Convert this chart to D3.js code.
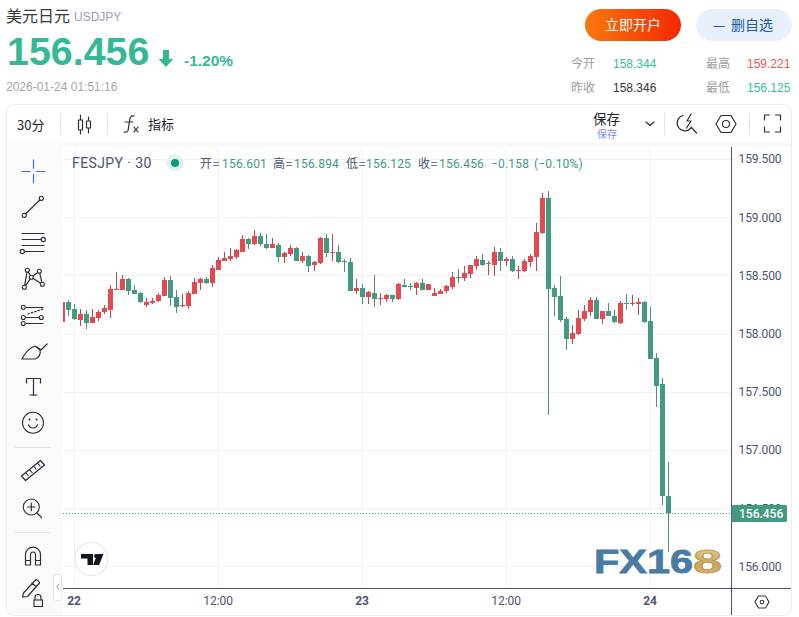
<!DOCTYPE html>
<html><head><meta charset="utf-8">
<script src="https://cdn.jsdelivr.net/npm/d3@7/dist/d3.min.js"></script>
<style>html,body{margin:0;padding:0;background:#fff;overflow:hidden}svg{display:block}</style>
</head><body><div id="c"></div>
<script>
const openPrices=[158.099,158.271,158.210,158.116,158.167,158.090,158.133,158.185,158.202,158.374,158.374,158.468,158.374,158.348,158.245,158.262,158.279,158.322,158.459,158.313,158.236,158.236,158.339,158.434,158.468,158.434,158.545,158.623,158.640,158.657,158.700,158.812,158.769,158.838,158.769,158.734,158.760,158.657,158.683,158.734,158.623,158.666,158.588,158.606,158.820,158.691,158.700,158.623,158.614,158.365,158.391,158.313,158.348,158.296,158.296,158.331,158.298,158.418,158.409,158.392,158.435,158.375,158.323,158.341,158.366,158.401,158.487,158.478,158.512,158.581,158.633,158.598,158.590,158.701,158.624,158.641,158.538,158.538,158.616,158.659,158.865,159.165,158.392,158.323,158.126,157.954,157.997,158.126,158.186,158.289,158.126,158.195,158.152,158.092,158.263,158.255,158.255,158.272,158.109,157.791,157.567,156.601];
const highPrices=[158.271,158.288,158.253,158.210,158.202,158.210,158.202,158.245,158.417,158.528,158.503,158.477,158.417,158.356,158.305,158.305,158.348,158.485,158.494,158.374,158.339,158.365,158.477,158.477,158.485,158.588,158.657,158.700,158.734,158.726,158.846,158.820,158.889,158.863,158.855,158.820,158.777,158.700,158.760,158.743,158.700,158.674,158.623,158.829,158.855,158.855,158.760,158.640,158.649,158.468,158.425,158.365,158.503,158.348,158.339,158.331,158.435,158.470,158.435,158.444,158.470,158.427,158.392,158.384,158.418,158.530,158.555,158.581,158.590,158.667,158.684,158.624,158.744,158.736,158.659,158.667,158.581,158.641,158.684,158.951,159.208,159.225,158.418,158.495,158.143,158.074,158.203,158.246,158.315,158.315,158.195,158.263,158.203,158.280,158.341,158.332,158.306,158.280,158.229,157.834,157.619,156.894];
const lowPrices=[158.099,158.150,158.116,158.064,158.039,158.090,158.107,158.167,158.133,158.374,158.374,158.331,158.339,158.262,158.228,158.253,158.271,158.322,158.236,158.176,158.228,158.210,158.339,158.374,158.425,158.399,158.545,158.623,158.623,158.640,158.700,158.726,158.760,158.752,158.726,158.734,158.614,158.606,158.666,158.623,158.606,158.528,158.537,158.597,158.657,158.623,158.606,158.528,158.365,158.339,158.253,158.253,158.228,158.245,158.271,158.271,158.289,158.401,158.375,158.332,158.375,158.375,158.323,158.341,158.349,158.384,158.435,158.452,158.478,158.547,158.581,158.504,158.495,158.538,158.581,158.530,158.470,158.530,158.573,158.538,158.856,157.301,158.152,158.100,157.860,157.911,157.989,158.109,158.152,158.126,158.083,158.152,158.092,158.083,158.203,158.238,158.160,158.092,157.782,157.370,156.527,156.125];
const closePrices=[158.271,158.202,158.124,158.167,158.090,158.142,158.185,158.219,158.382,158.382,158.468,158.365,158.339,158.271,158.271,158.279,158.331,158.459,158.305,158.228,158.245,158.348,158.442,158.468,158.434,158.563,158.631,158.649,158.666,158.717,158.812,158.769,158.838,158.769,158.734,158.769,158.657,158.691,158.734,158.623,158.666,158.580,158.614,158.820,158.691,158.700,158.614,158.614,158.365,158.391,158.313,158.356,158.296,158.305,158.331,158.296,158.427,158.401,158.401,158.435,158.375,158.427,158.349,158.366,158.409,158.487,158.478,158.521,158.590,158.641,158.590,158.607,158.701,158.624,158.641,158.538,158.547,158.624,158.667,158.873,159.165,158.384,158.315,158.117,157.954,158.006,158.134,158.195,158.289,158.126,158.195,158.152,158.100,158.263,158.255,158.263,158.272,158.100,157.782,157.550,156.605,156.456];
const priceTicks=[159.5,159,158.5,158,157.5,157,156.5,156];
const timeTickBars=[2,26,50,74,98];
const timeTickLabels=["22","12:00","23","12:00","24"];
const lastPrice=156.456;

const W=799,H=617;
const CJK='"Noto Sans CJK SC","Noto Sans",sans-serif';
const LAT='"Liberation Sans",Arial,"Noto Sans CJK SC",sans-serif';
const ROB='Roboto,"Noto Sans CJK SC",sans-serif';
const INK='#4a5470',STK='#2b2f3b',GRN='#429a82',RED='#e5494f',GWICK='#4d9070',RWICK='#bd4650';

const svg=d3.select('#c').append('svg').attr('width',W).attr('height',H).attr('viewBox',`0 0 ${W} ${H}`);
const defs=svg.append('defs');
const g1=defs.append('linearGradient').attr('id','btn');
g1.append('stop').attr('offset','0').attr('stop-color','#f9780f');
g1.append('stop').attr('offset','1').attr('stop-color','#f52800');
const g2=defs.append('linearGradient').attr('id','gold').attr('x2',0).attr('y2',1);
g2.append('stop').attr('offset','0').attr('stop-color','#efdc9e');
g2.append('stop').attr('offset','.55').attr('stop-color','#c9a45a');
g2.append('stop').attr('offset','1').attr('stop-color','#d9bb72');
defs.append('clipPath').attr('id','plot').append('rect').attr('x',63).attr('y',147).attr('width',668).attr('height',441);

function T(x,y,s,o={}){return svg.append('text').attr('x',x).attr('y',y).text(s)
 .attr('font-family',o.f||CJK).attr('font-size',o.s||12).attr('fill',o.c||'#333').attr('font-weight',o.w||400)
 .attr('text-anchor',o.a||'start').attr('letter-spacing',o.ls||null);}

// header
T(6,22,'美元日元',{s:16,c:'#3a3a3a'});
T(74,21,'USDJPY',{f:LAT,s:12,c:'#9a9eb4'});
T(7,65,'156.456',{f:LAT,s:39.4,w:700,c:'#35b995'});
svg.append('path').attr('d','M163 50h6v9h4.5l-7.5 8-7.5-8h4.500z').attr('fill','#35b995');
T(184,66,'-1.20%',{f:LAT,s:15.5,w:700,c:'#35b995'});
T(6,91,'2026-01-24 01:51:16',{f:LAT,s:12,c:'#a6a6ab'});
svg.append('rect').attr('x',585).attr('y',9).attr('width',96).attr('height',32).attr('rx',16).attr('fill','url(#btn)');
T(633,30,'立即开户',{s:14,c:'#fff',a:'middle'});
svg.append('rect').attr('x',696).attr('y',9).attr('width',96).attr('height',32).attr('rx',16).attr('fill','#e8effd');
T(713,30,'—',{s:14,c:'#1a5aa6'});
T(731,30,'删自选',{s:14,c:'#1a5aa6'});
[[571,68,'今开'],[571,92,'昨收'],[706,68,'最高'],[706,92,'最低']].forEach(d=>T(d[0],d[1],d[2],{c:'#9b9ba3'}));
[[613,68,'158.344','#35c09c'],[613,92,'158.346','#333'],[747,68,'159.221','#f0565a'],[747,92,'156.125','#35c09c']].forEach(d=>T(d[0],d[1],d[2],{f:LAT,c:d[3]}));

// card
svg.append('rect').attr('x',7).attr('y',143).attr('width',784).attr('height',5).attr('fill','#f8f8f9');
svg.append('rect').attr('x',7).attr('y',143).attr('width',56).attr('height',472).attr('fill','#fafafb');
svg.append('rect').attr('x',63).attr('y',147).attr('width',728).attr('height',468).attr('fill','#fff');
svg.append('rect').attr('x',6.5).attr('y',104.5).attr('width',785).attr('height',511).attr('rx',8).attr('fill','none').attr('stroke','#eeeeef');

// toolbar
T(17,130,'30分',{s:13,c:'#1e222d'});
[[60.5,113,135],[107.5,113,135],[664.5,113,135],[749.5,113,135]].forEach(d=>svg.append('line').attr('x1',d[0]).attr('x2',d[0]).attr('y1',d[1]).attr('y2',d[2]).attr('stroke','#e2e3e8'));
const P=(d,o={})=>svg.append('path').attr('d',d).attr('fill',o.fill||'none').attr('stroke',o.c||STK).attr('stroke-width',o.w||1.2).attr('stroke-linecap','round').attr('stroke-linejoin','round').attr('stroke-dasharray',o.dash||null);
const C=(x,y,r,o={})=>svg.append('circle').attr('cx',x).attr('cy',y).attr('r',r).attr('fill',o.fill||'#fafafb').attr('stroke',o.c||STK).attr('stroke-width',o.w||1.1);
P('M78.5 120h4v10h-4zM80.5 115v5M80.5 130v4M86.5 121h4v7h-4zM88.5 117v4M88.5 128v5');
P('M134 116c-4-1-4 2-5 8s0 9-5 8M125 122h8M134 127l4 5M138 127l-4 5');
T(148,129,'指标',{s:13,c:'#1e222d'});
T(593,124,'保存',{s:13.5,c:'#1e222d'});
T(597,137.5,'保存',{s:10,c:'#7b8cf5'});
P('M646 122l4 3.5 4-3.5');
P('M683 115.500a7.800 7.800 0 1 0 8 12.500M691 114l-4 7h4l-4.500 7M691 127l5.500 6');
P('M716 124l5-8.500h10l5 8.500-5 8.500h-10z'); C(726,124,3.5,{fill:'#fff'});
P('M764.5 120v-5h5M775.5 115h5v5M780.5 127v5h-5M769.5 132h-5v-5');

// plot
const x=d3.scaleLinear().domain([0,101]).range([62.33,668.33]);
const y=d3.scaleLinear().domain([159.5,156]).range([159,566.4]);
const plot=svg.append('g').attr('clip-path','url(#plot)');
const grid=plot.append('g').attr('stroke','#f2f2f4').attr('stroke-width',1);
grid.selectAll('.h').data(priceTicks).join('line').attr('x1',63).attr('x2',731)
 .attr('y1',d=>Math.round(y(d))+.5).attr('y2',d=>Math.round(y(d))+.5);
grid.selectAll('.v').data(timeTickBars).join('line').attr('y1',147).attr('y2',588)
 .attr('x1',d=>Math.floor(x(d))+.5).attr('x2',d=>Math.floor(x(d))+.5);

const bars=d3.range(openPrices.length);
const up=i=>closePrices[i]>=openPrices[i];
plot.selectAll('.w').data(bars).join('rect')
 .attr('x',i=>Math.floor(x(i))).attr('width',1)
 .attr('y',i=>Math.round(y(highPrices[i])))
 .attr('height',i=>Math.max(1,Math.round(y(lowPrices[i]))-Math.round(y(highPrices[i]))))
 .attr('fill',i=>up(i)?RWICK:GWICK);
plot.selectAll('.b').data(bars).join('rect')
 .attr('x',i=>Math.floor(x(i))-2).attr('width',5)
 .attr('y',i=>Math.round(y(Math.max(openPrices[i],closePrices[i]))))
 .attr('height',i=>Math.max(1,Math.round(y(Math.min(openPrices[i],closePrices[i])))-Math.round(y(Math.max(openPrices[i],closePrices[i])))))
 .attr('fill',i=>up(i)?RED:GRN);
plot.append('line').attr('x1',63).attr('x2',731).attr('y1',Math.round(y(lastPrice))+.5).attr('y2',Math.round(y(lastPrice))+.5)
 .attr('stroke',GRN).attr('stroke-dasharray','1 2');

// logo
T(594,573,'FX16',{f:LAT,s:33,w:700,c:'#4a7ba2'}).attr('textLength',99).attr('lengthAdjust','spacingAndGlyphs').attr('stroke','#4a7ba2').attr('stroke-width',.8);
T(693,573,'8',{f:LAT,s:33,w:700,c:'url(#gold)'}).attr('textLength',29).attr('lengthAdjust','spacingAndGlyphs').attr('stroke','#b8954e').attr('stroke-width',.8);

// TV badge
C(91.3,559,16.5,{fill:'#fff',c:'#e6e8f0',w:1.2});
svg.append('path').attr('d','M81 554h12v11h-5.5v-6.5H81zM99 565l4.5-11h-6.2l-4.2 11z').attr('fill','#131722');
svg.append('circle').attr('cx',96).attr('cy',556).attr('r',2).attr('fill','#131722');

// legend
T(72,168,'FESJPY · 30',{f:ROB,s:14,c:INK,ls:'.4px'});
C(175,163,8.5,{fill:'#dff2ee',c:'none',w:0});C(175,163,4,{fill:'#089981',c:'none',w:0});
[[200,'开'],[273,'高'],[346,'低'],[418,'收']].forEach(d=>T(d[0],168,d[1]+'=',{s:12,c:INK,ls:'.8px'}));
[[222,'156.601'],[294,'156.894'],[366,'156.125'],[439,'156.456'],[491,'−0.158'],[534,'(−0.10%)']].forEach(d=>T(d[0],168,d[1],{f:ROB,s:12,c:GRN,ls:'.2px'}));

// axes
const axR=d3.axisRight(y).tickValues(priceTicks).tickSize(0).tickPadding(7).tickFormat(d3.format('.3f'));
const ga=svg.append('g').attr('transform','translate(731.5,0)').call(axR);
ga.select('.domain').remove();
ga.selectAll('text').attr('font-family',ROB).attr('font-size',12).attr('fill',INK).attr('letter-spacing','-.1px');
const axB=d3.axisBottom(x).tickValues(timeTickBars).tickSize(0).tickPadding(8).tickFormat((d,i)=>timeTickLabels[i]);
const gb=svg.append('g').attr('transform','translate(-.7,588.5)').call(axB);
gb.select('.domain').remove();
gb.selectAll('text').attr('font-family',ROB).attr('font-size',12).attr('fill',INK).attr('font-weight',(d,i)=>timeTickLabels[i].includes(':')?400:700);
svg.append('line').attr('x1',63).attr('x2',791).attr('y1',588.5).attr('y2',588.5).attr('stroke',INK);
svg.append('line').attr('x1',731.5).attr('x2',731.5).attr('y1',147).attr('y2',615).attr('stroke',INK);
P('M755 602l3.5-6h7l3.5 6-3.5 6h-7z',{c:'#333a4d'}); C(762,602,1.8,{fill:'#fff',c:'#333a4d'});
svg.append('rect').attr('x',731.5).attr('y',505).attr('width',55.5).attr('height',17).attr('rx',1.5).attr('fill',GRN);
T(739,518,d3.format('.3f')(lastPrice),{f:ROB,s:12,c:'#fff',w:500});

// left tools
const BL='#3a6df0';
P('M22 171.5h8.3M36.3 171.5h8.4M33.5 160v8.3M33.5 174.3v8.4',{c:BL,w:1.2});
P('M26 213.5L39.8 200'); C(24.3,215.3,2.1); C(41.3,198.3,2.1);
P('M22 233.5h22M22 239.5h19M22 245.5h22M25 251.5h19'); C(43.3,239.5,2.1); C(22.3,251.5,2.1);
P('M27.3 270.3L24.3 287.3L31.3 277.3L27.3 270.3M31.3 277.3L39.3 271.3L42.3 284.3L31.3 277.3');
[[27.3,270.3],[39.3,271.3],[31.3,277.3],[42.3,284.3],[24.3,287.3]].forEach(d=>C(d[0],d[1],2));
P('M26 307.5h17M26 317.5h13M26 323.5h17'); P('M28 314l15-5',{dash:'1.5 2'});
[[23.3,307.3],[23.3,317.5],[41.3,317.5],[23.3,323.5]].forEach(d=>C(d[0],d[1],2));
P('M22 359h13c4-1 6-5 5-9l-5-4c-6 2-10 7-13 13zM37 347l4 3 6-6');
P('M26.5 383v-4.5h14v4.5M33.5 378.5v17M30 395h7');
C(33,422.7,10.5,{fill:'none'});P('M28.5 425c2 4 7 4 9 0');svg.append('circle').attr('cx',29.5).attr('cy',419.5).attr('r',1).attr('fill',STK);svg.append('circle').attr('cx',36.5).attr('cy',419.5).attr('r',1).attr('fill',STK);
[447.5,532.5].forEach(v=>svg.append('line').attr('x1',15).attr('x2',51).attr('y1',v).attr('y2',v).attr('stroke','#e2e3ea'));
P('M21.5 476l19-15.500 4 4.500-19 15.500zM26 473l2 2.500M30 470l2 2.500M34 466.500l2 2.500M38 463.500l2 2.500');
C(31.3,507,8,{fill:'none'});P('M37 513l4.500 4.500M27.500 507h7.500M31.300 503.200v7.500');
P('M25.500 565v-10c0-10.500 15-10.500 15 0v10h-5v-10c0-4-5-4-5 0v10zM25.500 560.500h5M35.500 560.500h5');
P('M22.500 597l1-4 12-13c1-1 3.500 1 4 3l-12 13.500-5 .5zM32 583l4 3.500');
P('M35 600v-2.500c0-4 6-4 6 0v2.500'); svg.append('rect').attr('x',34).attr('y',600).attr('width',8.500).attr('height',6.500).attr('fill','#fafafb').attr('stroke',STK).attr('stroke-width',1.1);
svg.append('rect').attr('x',53.500).attr('y',574.500).attr('width',8).attr('height',26).attr('rx',3).attr('fill','#fff').attr('stroke','#e6e7ec');
P('M59 584l-2.500 3 2.500 3',{c:'#9a9da8',w:1});
</script></body></html>
